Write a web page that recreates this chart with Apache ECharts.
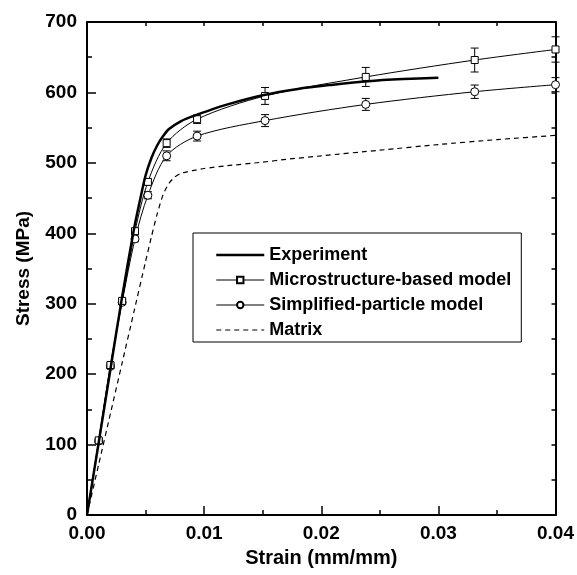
<!DOCTYPE html>
<html>
<head>
<meta charset="utf-8">
<script src="https://cdn.jsdelivr.net/npm/echarts@6/dist/echarts.min.js"></script>
<style>
  html, body { margin: 0; padding: 0; background: #fff; }
  #chart { width: 577px; height: 575px; }
</style>
</head>
<body>
<div id="chart"></div>
<script>
// experiment curve (thick line)
const expStrain = [0, 0.001, 0.002, 0.003, 0.004, 0.0045, 0.005, 0.0055, 0.006, 0.0065, 0.007, 0.008, 0.009, 0.010, 0.012, 0.015, 0.018, 0.021, 0.024, 0.027, 0.030];
const expStress = [0, 103, 207, 310, 405, 445, 482, 507, 525, 538, 548, 559, 566, 572, 583, 596, 605, 611, 616, 619, 621];

// model points (markers + error bars)
const modelStrain = [0.001, 0.002, 0.003, 0.0041, 0.0052, 0.0068, 0.0094, 0.0152, 0.0238, 0.0331, 0.040];
const microStress = [106, 213, 304, 403, 473, 528, 562, 595, 622, 646, 661];
const microErr = [2, 3, 3, 4, 4, 6, 6, 12, 13.5, 17, 18];
const simpleStress = [105, 211, 302, 392, 454, 510, 538, 560, 583, 601, 611];
const simpleErr = [2, 3, 3, 4, 5, 7, 7, 8.5, 8.5, 9.5, 10];

// matrix curve (dashed)
const matStrain = [0, 0.001, 0.002, 0.003, 0.004, 0.005, 0.0055, 0.006, 0.0065, 0.007, 0.0075, 0.008, 0.009, 0.010, 0.012, 0.015, 0.017, 0.020, 0.025, 0.030, 0.035, 0.040];
const matStress = [0, 72, 144, 216, 288, 360, 395, 428, 455, 471, 480, 485, 489, 492, 496, 501, 505, 510, 518, 526, 533, 539];

const xTicks = [0, 0.01, 0.02, 0.03, 0.04];
const yTicks = [0, 100, 200, 300, 400, 500, 600, 700];

const FONT = '"Liberation Sans", Arial, sans-serif';

const pairs = (xs, ys) => xs.map((x, i) => [x, ys[i]]);

// models start from the origin without a marker
const modelLine = (ys) => [{ value: [0, 0], symbol: 'none' }].concat(pairs(modelStrain, ys));

const errBars = (ys, errs) => modelStrain.map((x, i) => [x, ys[i], errs[i]]);

const renderErrBar = (params, api) => {
  const x = api.value(0);
  const y = api.value(1);
  const e = api.value(2);
  const top = api.coord([x, y + e]);
  const bot = api.coord([x, y - e]);
  const cap = 4;
  const style = { stroke: '#000', lineWidth: 1 };
  return {
    type: 'group',
    children: [
      { type: 'line', shape: { x1: top[0], y1: top[1], x2: bot[0], y2: bot[1] }, style },
      { type: 'line', shape: { x1: top[0] - cap, y1: top[1], x2: top[0] + cap, y2: top[1] }, style },
      { type: 'line', shape: { x1: bot[0] - cap, y1: bot[1], x2: bot[0] + cap, y2: bot[1] }, style }
    ]
  };
};

const chart = echarts.init(document.getElementById('chart'));

const axisBase = {
  axisLine: { show: true, onZero: false, lineStyle: { color: '#000', width: 2 } },
  splitLine: { show: false }
};

// plain line entries in the legend: hide the marker ECharts adds
const noMarker = { color: 'transparent', borderColor: 'transparent', borderWidth: 0 };

chart.setOption({
  animation: false,
  backgroundColor: '#fff',
  textStyle: { fontFamily: FONT },
  grid: { left: 87, right: 20, top: 22, bottom: 60 },
  legend: {
    data: [
      { name: 'Experiment', itemStyle: noMarker, lineStyle: { width: 2.5 } },
      { name: 'Microstructure-based model', lineStyle: { width: 1 } },
      { name: 'Simplified-particle model', lineStyle: { width: 1 } },
      { name: 'Matrix', itemStyle: noMarker, lineStyle: { width: 1.2 } }
    ],
    orient: 'vertical',
    left: 193,
    top: 233,
    padding: [12, 10, 2, 22],
    itemGap: 5,
    itemWidth: 48,
    itemHeight: 8,
    borderColor: '#000',
    borderWidth: 1,
    textStyle: { fontFamily: FONT, fontWeight: 'bold', fontSize: 18, color: '#000', lineHeight: 20 }
  },
  xAxis: [
    Object.assign({}, axisBase, {
      type: 'value',
      min: 0,
      max: 0.04,
      interval: 0.01,
      name: 'Strain (mm/mm)',
      nameLocation: 'middle',
      nameGap: 33,
      nameTextStyle: { fontFamily: FONT, fontWeight: 'bold', fontSize: 20, color: '#000' },
      axisTick: { inside: true, length: 9, lineStyle: { color: '#000', width: 1.5 } },
      minorTick: { show: true, splitNumber: 2, length: 5, lineStyle: { color: '#000', width: 1.5 } },
      axisLabel: {
        margin: 9,
        fontFamily: FONT, fontWeight: 'bold', fontSize: 19, color: '#000',
        formatter: (v) => xTicks.some((t) => Math.abs(t - v) < 1e-9) ? v.toFixed(2) : ''
      }
    }),
    Object.assign({}, axisBase, {
      type: 'value',
      position: 'top',
      min: 0,
      max: 0.04,
      interval: 0.01,
      axisTick: { inside: true, length: 4, lineStyle: { color: '#000', width: 1.5 } },
      minorTick: { show: true, splitNumber: 2, length: 4, lineStyle: { color: '#000', width: 1.5 } },
      axisLabel: { show: false }
    })
  ],
  yAxis: [
    Object.assign({}, axisBase, {
      type: 'value',
      min: 0,
      max: 700,
      interval: 100,
      name: 'Stress (MPa)',
      nameLocation: 'middle',
      nameGap: 54,
      nameTextStyle: { fontFamily: FONT, fontWeight: 'bold', fontSize: 19, color: '#000' },
      axisTick: { inside: true, length: 9, lineStyle: { color: '#000', width: 1.5 } },
      minorTick: { show: true, splitNumber: 2, length: 5, lineStyle: { color: '#000', width: 1.5 } },
      axisLabel: {
        margin: 10,
        fontFamily: FONT, fontWeight: 'bold', fontSize: 19, color: '#000',
        formatter: (v) => yTicks.indexOf(v) >= 0 ? String(v) : ''
      }
    }),
    Object.assign({}, axisBase, {
      type: 'value',
      position: 'right',
      min: 0,
      max: 700,
      interval: 100,
      axisTick: { inside: true, length: 4, lineStyle: { color: '#000', width: 1.5 } },
      minorTick: { show: true, splitNumber: 2, length: 4, lineStyle: { color: '#000', width: 1.5 } },
      axisLabel: { show: false }
    })
  ],
  series: [
    {
      name: 'Matrix',
      type: 'line',
      data: pairs(matStrain, matStress),
      smooth: 0.2,
      showSymbol: false,
      symbol: 'none',
      color: '#000',
      lineStyle: { color: '#000', width: 1.2, type: [5, 4] }
    },
    {
      name: 'microErr',
      type: 'custom',
      data: errBars(microStress, microErr),
      renderItem: renderErrBar,
      z: 3
    },
    {
      name: 'simpleErr',
      type: 'custom',
      data: errBars(simpleStress, simpleErr),
      renderItem: renderErrBar,
      z: 3
    },
    {
      name: 'Simplified-particle model',
      type: 'line',
      data: modelLine(simpleStress),
      smooth: 0.3,
      symbol: 'circle',
      symbolSize: 8,
      showAllSymbol: true,
      color: '#000',
      itemStyle: { color: '#fff', borderColor: '#000', borderWidth: 1 },
      lineStyle: { color: '#000', width: 1 },
      z: 4
    },
    {
      name: 'Microstructure-based model',
      type: 'line',
      data: modelLine(microStress),
      smooth: 0.3,
      symbol: 'rect',
      symbolSize: 7,
      showAllSymbol: true,
      color: '#000',
      itemStyle: { color: '#fff', borderColor: '#000', borderWidth: 1 },
      lineStyle: { color: '#000', width: 1 },
      z: 4
    },
    {
      name: 'Experiment',
      type: 'line',
      data: pairs(expStrain, expStress),
      smooth: 0.3,
      showSymbol: false,
      symbol: 'none',
      color: '#000',
      lineStyle: { color: '#000', width: 2.5 },
      z: 5
    }
  ]
});
</script>
</body>
</html>
